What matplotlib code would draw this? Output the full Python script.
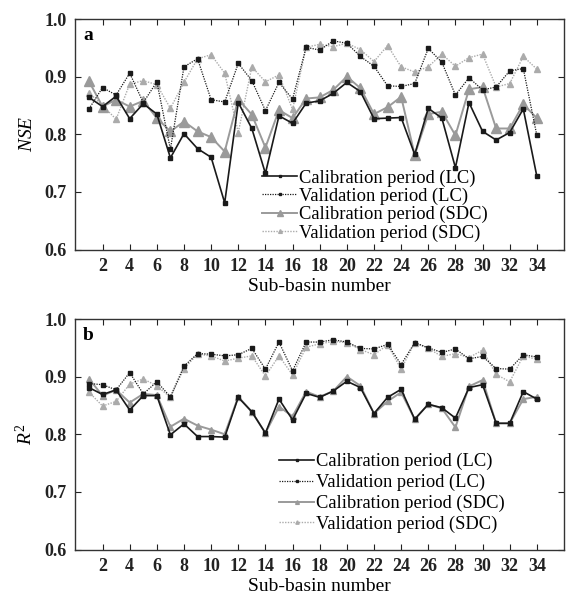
import matplotlib
matplotlib.use("Agg")
import matplotlib.pyplot as plt
import numpy as np

subbasins = list(range(1, 35))

nse_cal_lc = [0.864, 0.848, 0.866, 0.827, 0.853, 0.835, 0.759, 0.801, 0.775, 0.760, 0.681,
              0.855, 0.810, 0.732, 0.832, 0.819, 0.854, 0.858, 0.871, 0.890, 0.874, 0.827, 0.828,
              0.829, 0.765, 0.845, 0.828, 0.742, 0.855, 0.805, 0.790, 0.803, 0.844, 0.727]
nse_val_lc = [0.844, 0.881, 0.868, 0.906, 0.855, 0.891, 0.774, 0.917, 0.931, 0.860, 0.856,
              0.923, 0.893, 0.841, 0.890, 0.861, 0.951, 0.946, 0.962, 0.958, 0.935, 0.918, 0.884,
              0.883, 0.888, 0.949, 0.925, 0.868, 0.898, 0.877, 0.882, 0.910, 0.914, 0.798]
nse_cal_sdc = [0.892, 0.848, 0.860, 0.848, 0.858, 0.828, 0.805, 0.822, 0.805, 0.795, 0.770,
               0.861, 0.834, 0.777, 0.842, 0.828, 0.862, 0.864, 0.877, 0.900, 0.880, 0.835, 0.847,
               0.865, 0.764, 0.835, 0.839, 0.798, 0.878, 0.882, 0.810, 0.810, 0.852, 0.828]
nse_val_sdc = [0.872, 0.850, 0.826, 0.887, 0.893, 0.886, 0.845, 0.890, 0.931, 0.938, 0.906,
               0.803, 0.917, 0.891, 0.903, 0.843, 0.951, 0.956, 0.952, 0.958, 0.947, 0.926, 0.954,
               0.917, 0.908, 0.917, 0.939, 0.918, 0.933, 0.939, 0.882, 0.888, 0.935, 0.913]

r2_cal_lc = [0.881, 0.869, 0.877, 0.842, 0.867, 0.867, 0.799, 0.818, 0.796, 0.796, 0.795,
             0.864, 0.839, 0.802, 0.861, 0.825, 0.871, 0.864, 0.875, 0.892, 0.881, 0.836, 0.864,
             0.878, 0.826, 0.852, 0.846, 0.828, 0.881, 0.886, 0.819, 0.819, 0.874, 0.861]
r2_val_lc = [0.888, 0.886, 0.877, 0.907, 0.870, 0.891, 0.865, 0.918, 0.940, 0.939, 0.936,
             0.938, 0.949, 0.913, 0.960, 0.910, 0.960, 0.960, 0.964, 0.960, 0.949, 0.948, 0.956,
             0.921, 0.959, 0.950, 0.942, 0.948, 0.931, 0.935, 0.914, 0.913, 0.938, 0.934]
r2_cal_sdc = [0.896, 0.867, 0.877, 0.855, 0.870, 0.868, 0.813, 0.827, 0.815, 0.808, 0.800,
              0.865, 0.839, 0.802, 0.848, 0.831, 0.874, 0.865, 0.875, 0.900, 0.884, 0.836, 0.857,
              0.873, 0.826, 0.852, 0.845, 0.812, 0.883, 0.894, 0.819, 0.819, 0.861, 0.865]
r2_val_sdc = [0.873, 0.849, 0.857, 0.887, 0.896, 0.884, 0.864, 0.914, 0.939, 0.936, 0.927,
              0.932, 0.936, 0.901, 0.936, 0.903, 0.951, 0.957, 0.961, 0.959, 0.947, 0.938, 0.955,
              0.913, 0.959, 0.949, 0.935, 0.940, 0.933, 0.946, 0.904, 0.891, 0.936, 0.930]

labels = ["Calibration period (LC)", "Validation period (LC)",
          "Calibration period (SDC)", "Validation period (SDC)"]
xticks = list(range(2, 35, 2))
yticks = [0.6, 0.7, 0.8, 0.9, 1.0]

plt.rcParams['font.family'] = ['Liberation Serif', 'DejaVu Serif']
plt.rcParams['mathtext.fontset'] = 'custom'
plt.rcParams['mathtext.it'] = 'Liberation Serif:italic'
plt.rcParams['mathtext.rm'] = 'Liberation Serif'

fig = plt.figure(figsize=(5.66, 5.97), dpi=100)
W, H = 566, 597
AX_L, AX_R = 75.4, 564
ax_a = fig.add_axes([AX_L / W, 1 - 249.5 / H, (AX_R - AX_L) / W, (249.5 - 19) / H])
ax_b = fig.add_axes([AX_L / W, 1 - 549.5 / H, (AX_R - AX_L) / W, (549.5 - 319) / H])

BLACK = '#1a1a1a'
GRAY = '#9a9a9a'
LGRAY = '#ababab'


def draw(ax, cal_lc, val_lc, cal_sdc, val_sdc, big, letter, ylabel,
         leg_px, ax_bottom, ax_top, lspace):
    s_tri = 6.5 if big else 4.5
    v_tri = 4.5 if big else 4.0
    ax.plot(subbasins, val_sdc, color=LGRAY, lw=1.0, ls=(0, (1, 1)), marker='^',
            ms=v_tri, mec=LGRAY, mfc=LGRAY, label=labels[3], zorder=2)
    ax.plot(subbasins, cal_sdc, color=GRAY, lw=1.4, ls='-', marker='^',
            ms=s_tri, mec=GRAY, mfc=GRAY, label=labels[2], zorder=3)
    ax.plot(subbasins, val_lc, color=BLACK, lw=0.9, ls=(0, (1, 1)), marker='s',
            ms=3.2, mec=BLACK, mfc=BLACK, label=labels[1], zorder=4)
    ax.plot(subbasins, cal_lc, color=BLACK, lw=1.2, ls='-', marker='s',
            ms=3.2, mec=BLACK, mfc=BLACK, label=labels[0], zorder=5)
    ax.set_xlim(0, 36)
    ax.set_ylim(0.6, 1.0)
    ax.set_xticks(xticks)
    ax.set_yticks(yticks)
    ax.set_yticklabels([f"{v:.1f}" for v in yticks])
    ax.tick_params(direction='in', top=True, right=True, length=4, width=0.8,
                   colors='#222222', labelsize=13, pad=6)
    for lab in ax.get_xticklabels() + ax.get_yticklabels():
        lab.set_fontweight('bold')
    for sp in ax.spines.values():
        sp.set_color('#333333')
        sp.set_linewidth(1.0)
    ax.set_xlabel("Sub-basin number", fontsize=14, labelpad=2)
    ax.set_ylabel(ylabel, fontsize=14, labelpad=6)
    ax.text(0.016, 0.965, letter, transform=ax.transAxes, fontsize=14,
            fontweight='bold', va='top', ha='left')
    handles, labs = ax.get_legend_handles_labels()
    order = [3, 2, 1, 0]
    anchor = ((leg_px[0] - AX_L) / (AX_R - AX_L),
              (ax_bottom - leg_px[1]) / (ax_bottom - ax_top))
    ax.legend([handles[i] for i in order], [labs[i] for i in order],
              loc='center left', bbox_to_anchor=anchor, frameon=False,
              fontsize=13.3, handlelength=1.9, handletextpad=0.08,
              labelspacing=lspace, markerscale=0.6, borderpad=0,
              borderaxespad=0)


draw(ax_a, nse_cal_lc, nse_val_lc, nse_cal_sdc, nse_val_sdc, True, 'a',
     r'$\mathit{NSE}$', (262, 205.5), 249.5, 19, 0.06)
draw(ax_b, r2_cal_lc, r2_val_lc, r2_cal_sdc, r2_val_sdc, False, 'b',
     r'$\mathit{R}^2$', (279, 493), 549.5, 319, 0.19)

fig.savefig("out.png", dpi=100)
